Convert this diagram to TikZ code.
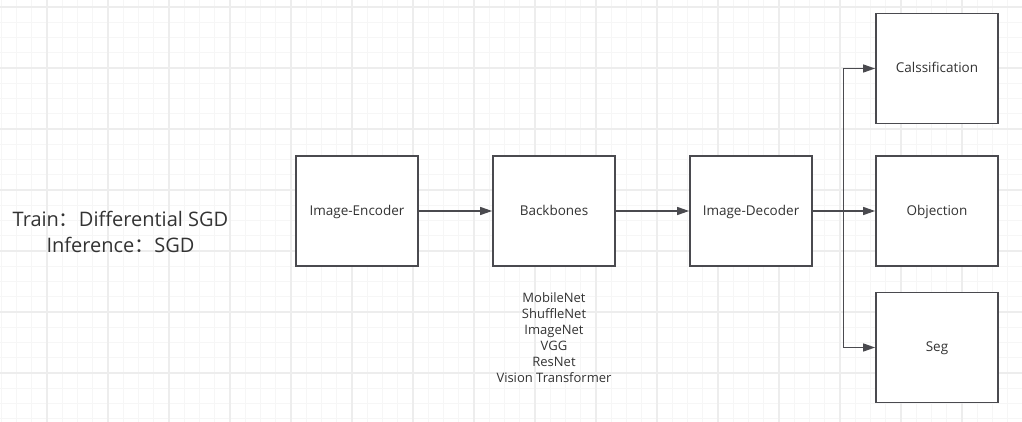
\documentclass[tikz,border=0pt]{standalone}
\usepackage{fontspec}
\setmainfont{Open Sans}
\newfontfamily\cjk{Noto Sans CJK SC}
\usetikzlibrary{arrows.meta}
\definecolor{lc}{HTML}{4A4A4F}
\definecolor{tc}{HTML}{333333}
\definecolor{gmaj}{HTML}{EDEDED}
\definecolor{gmin}{HTML}{F6F6F6}
\tikzset{
  x=1pt,y=-1pt,
  boxnode/.style={draw=lc,line width=1.8pt,fill=white,minimum width=122pt,minimum height=110pt,inner sep=0pt,text=tc,font=\fontsize{13.5}{16}\selectfont,text height=0.8em,text depth=0pt},
  conn/.style={draw=lc,line width=1.4pt,-{Triangle[length=12pt,width=8pt]}},
  plain/.style={draw=lc,line width=1.4pt}
}
\begin{document}
\begin{tikzpicture}
\useasboundingbox (0,0) rectangle (1022,422);
\fill[white] (0,0) rectangle (1022,422);
% minor grid
\foreach \i in {0,...,67} {
  \pgfmathsetmacro\xx{1.25+15.25*\i}
  \draw[gmin,line width=1pt] (\xx,0) -- (\xx,422);
}
\foreach \i in {-1,...,27} {
  \pgfmathsetmacro\yy{7+15.25*\i}
  \draw[gmin,line width=1pt] (0,\yy) -- (1022,\yy);
}
% major grid
\foreach \i in {0,...,16} {
  \pgfmathsetmacro\xx{47+61*\i}
  \draw[gmaj,line width=1.3pt] (\xx,0) -- (\xx,422);
}
\foreach \i in {0,...,6} {
  \pgfmathsetmacro\yy{7+61*\i}
  \draw[gmaj,line width=1.3pt] (0,\yy) -- (1022,\yy);
}
% boxes
\node[boxnode] (enc) at (357,211) {Image-Encoder};
\node[boxnode] (bb)  at (554,211) {Backbones};
\node[boxnode] (dec) at (751,211) {Image-Decoder};
\node[boxnode] (cls) at (937,68.5) {Calssification};
\node[boxnode] (obj) at (937,211) {Objection};
\node[boxnode] (seg) at (937,347.5) {Seg};
% list
\node[text=tc,font=\fontsize{13}{16}\selectfont,align=center,inner sep=0pt,anchor=north] (lst) at (554,292)
  {MobileNet\\ShuffleNet\\ImageNet\\VGG\\ResNet\\Vision Transformer};
% left text
\node[text=tc,font=\fontsize{20}{25.5}\selectfont,align=center,inner sep=0pt,anchor=north] (note) at (120.5,211)
  {Train{\cjk ：}Differential SGD\\Inference{\cjk ：}SGD};
% connectors
\coordinate (split) at (843.5,211);
\draw[conn] (enc.east) -- (bb.west);
\draw[conn] (bb.east) -- (dec.west);
\draw[conn] (dec.east) -- (obj.west);
\draw[conn] (split) |- (cls.west);
\draw[conn] (split) |- (seg.west);
\end{tikzpicture}
\end{document}
